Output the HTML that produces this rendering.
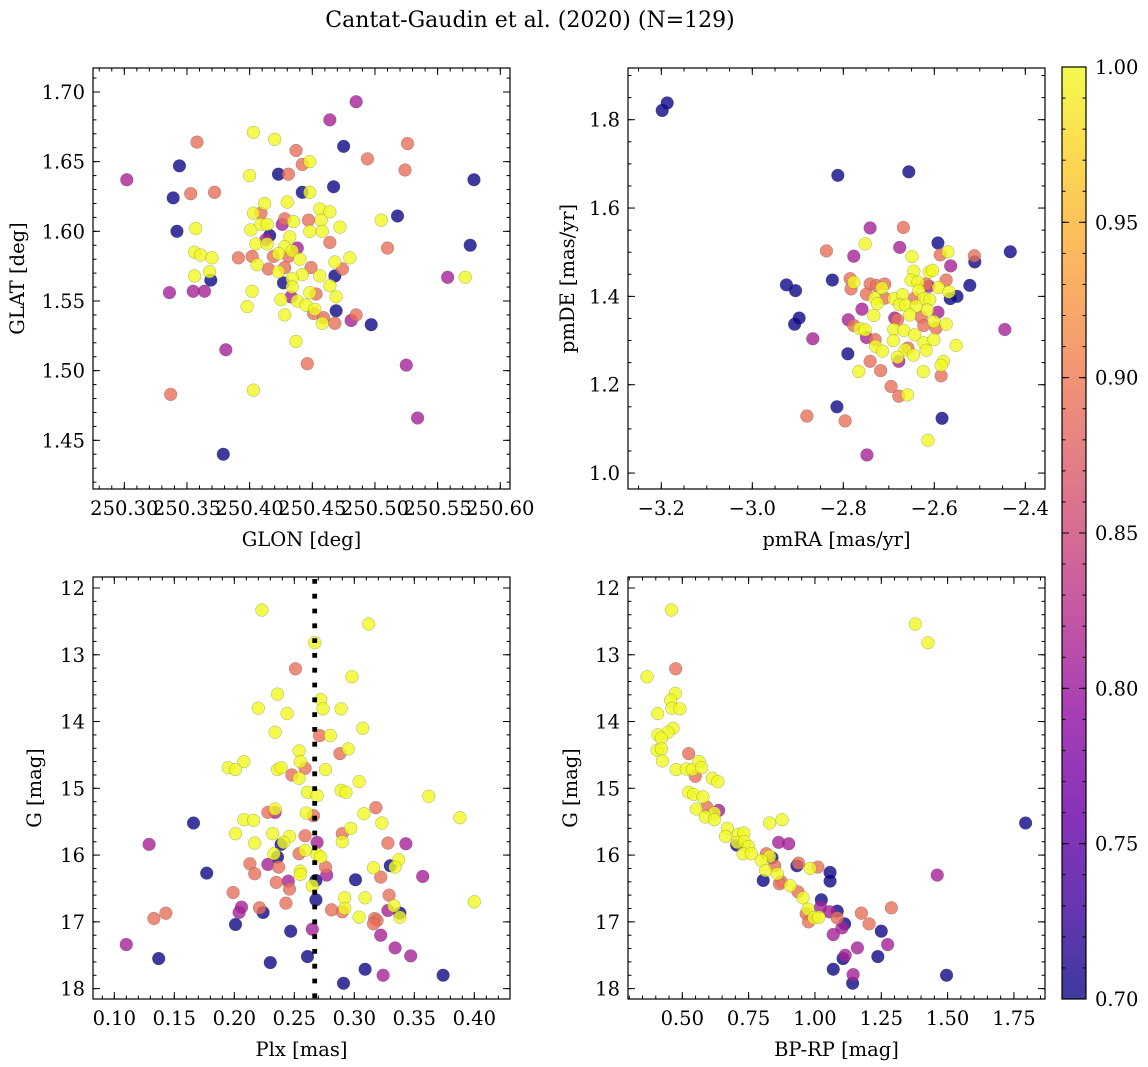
<!DOCTYPE html>
<html><head><meta charset="utf-8"><style>
html,body{margin:0;padding:0;background:#fff;}
svg{display:block;font-family:"DejaVu Serif","Liberation Serif",serif;}
</style></head><body>
<svg id="fig" width="1148" height="1067" viewBox="0 0 1148 1067" xmlns="http://www.w3.org/2000/svg">
<rect x="0" y="0" width="1148" height="1067" fill="#fff"/>
<text x="530" y="27" font-size="22" text-anchor="middle">Cantat-Gaudin et al. (2020) (N=129)</text>
<defs><linearGradient id="plasmaGrad" x1="0" y1="1" x2="0" y2="0"></linearGradient></defs>
</svg>
<script>
// ---------- data ----------
const p1Lon=[250.485,250.464,250.403,250.420,250.358,250.437,250.475,250.526,250.344,250.494,250.442,250.448,250.524,250.302,250.579,250.400,250.423,250.431,250.467,250.339,250.353,250.372,250.442,250.448,250.412,250.430,250.456,250.464,250.409,250.403,250.428,250.447,250.457,250.426,250.435,250.518,250.505,250.472,250.357,250.342,250.401,250.409,250.414,250.416,250.448,250.458,250.432,250.464,250.413,250.405,250.414,250.510,250.576,250.356,250.361,250.370,250.438,250.428,250.434,250.391,250.402,250.423,250.419,250.431,250.440,250.480,250.468,250.474,250.406,250.415,250.428,250.423,250.449,250.456,250.468,250.356,250.369,250.368,250.442,250.427,250.434,250.434,250.464,250.336,250.355,250.364,250.402,250.448,250.453,250.433,250.425,250.438,250.469,250.398,250.445,250.452,250.451,250.469,250.459,250.481,250.485,250.428,250.458,250.468,250.497,250.437,250.381,250.446,250.525,250.558,250.572,250.337,250.403,250.534,250.379];
const p1Lat=[1.693,1.680,1.671,1.666,1.664,1.658,1.661,1.663,1.647,1.652,1.648,1.650,1.644,1.637,1.637,1.640,1.641,1.641,1.632,1.624,1.627,1.628,1.628,1.628,1.620,1.621,1.616,1.614,1.613,1.613,1.609,1.608,1.608,1.605,1.607,1.611,1.608,1.603,1.602,1.600,1.601,1.605,1.605,1.597,1.600,1.600,1.596,1.592,1.594,1.591,1.591,1.588,1.590,1.585,1.583,1.581,1.588,1.589,1.586,1.581,1.582,1.584,1.582,1.582,1.580,1.581,1.578,1.573,1.576,1.573,1.574,1.571,1.574,1.568,1.568,1.568,1.565,1.571,1.569,1.563,1.566,1.560,1.561,1.556,1.557,1.557,1.557,1.556,1.555,1.553,1.551,1.550,1.553,1.546,1.547,1.544,1.541,1.543,1.538,1.536,1.540,1.540,1.534,1.534,1.533,1.521,1.515,1.505,1.504,1.567,1.567,1.483,1.486,1.466,1.440];
const p1Prob=[0.81,0.81,1,1,0.89,0.89,0.7,0.89,0.7,0.89, 0.89,1,0.89,0.81,0.7,1,0.7,0.89,0.7,0.7, 0.89,0.89,0.7,1,1,1,1,1,0.89,1, 0.89,0.89,1,0.81,1,0.7,1,1,1,0.7, 1,1,1,0.7,1,1,1,0.89,0.81,1, 1,0.89,0.7,1,1,1,0.81,1,1,0.89, 0.89,1,0.89,0.89,1,1,1,0.89,1,0.89, 0.89,1,0.89,1,0.7,1,0.7,1,1,0.7, 1,1,1,0.81,0.81,0.81,1,1,0.89,0.81, 1,1,1,1,1,1,0.89,0.7,0.89,0.81, 0.89,1,1,0.89,0.7,1,0.81,0.89,0.81,0.81, 1,0.89,1,0.81,0.7];

const p2PmRA=[-3.198,-3.187,-2.812,-2.656,-2.741,-2.668,-2.752,-2.592,-2.837,-2.777, -2.676,-2.649,-2.587,-2.570,-2.512,-2.511,-2.433,-2.564,-2.645,-2.611, -2.604,-2.824,-2.925,-2.905,-2.785,-2.777,-2.783,-2.741,-2.727,-2.709, -2.749,-2.715,-2.731,-2.725,-2.709,-2.689,-2.670,-2.676,-2.651,-2.636, -2.618,-2.612,-2.591,-2.574,-2.568,-2.565,-2.550,-2.522,-2.634,-2.643, -2.623,-2.610,-2.663,-2.640,-2.615,-2.592,-2.654,-2.759,-2.733,-2.687, -2.681,-2.629,-2.601,-2.574,-2.789,-2.777,-2.764,-2.752,-2.689,-2.667, -2.623,-2.596,-2.867,-2.749,-2.730,-2.729,-2.714,-2.690,-2.643,-2.623, -2.618,-2.601,-2.552,-2.658,-2.664,-2.646,-2.681,-2.678,-2.790,-2.741, -2.766,-2.718,-2.624,-2.580,-2.585,-2.585,-2.695,-2.678,-2.659,-2.814, -2.880,-2.796,-2.583,-2.614,-2.748,-2.907,-2.897,-2.445];
const p2PmDE=[1.821,1.838,1.674,1.682,1.555,1.556,1.519,1.521,1.503,1.491, 1.511,1.490,1.494,1.501,1.492,1.478,1.501,1.469,1.457,1.455, 1.459,1.437,1.426,1.413,1.440,1.432,1.417,1.428,1.425,1.428, 1.405,1.419,1.396,1.384,1.396,1.395,1.404,1.381,1.437,1.432, 1.428,1.423,1.420,1.437,1.410,1.395,1.400,1.425,1.413,1.396, 1.395,1.393,1.380,1.378,1.369,1.364,1.358,1.371,1.357,1.351, 1.347,1.353,1.343,1.337,1.347,1.334,1.327,1.324,1.325,1.323, 1.334,1.328,1.304,1.307,1.302,1.287,1.276,1.300,1.313,1.295, 1.278,1.302,1.289,1.283,1.279,1.267,1.262,1.253,1.270,1.253, 1.230,1.232,1.230,1.253,1.244,1.220,1.196,1.174,1.177,1.150, 1.129,1.118,1.124,1.074,1.041,1.337,1.351,1.325];
const p2Prob=[0.7,0.7,0.7,0.7,0.81,0.89,1,0.7,0.89,0.81, 0.81,1,0.89,1,0.89,0.7,0.7,0.81,1,1, 1,0.7,0.7,0.7,0.89,1,0.89,0.89,0.89,0.89, 0.89,1,1,1,0.89,1,1,1,1,1, 0.89,0.81,1,0.89,1,0.7,0.7,0.7,1,0.89, 1,1,1,1,1,0.81,1,0.81,1,0.81, 0.89,0.89,1,1,0.81,0.89,1,1,1,1, 0.89,0.89,0.81,0.81,0.89,1,1,1,1,1, 1,1,1,0.89,1,1,1,0.81,0.7,0.89, 1,0.89,1,1,1,0.89,0.89,0.89,1,0.7, 0.89,0.89,0.7,1,0.81,0.7,0.7,0.81];

const p3Plx=[0.223,0.312,0.267,0.251,0.298,0.236,0.272,0.274,0.220,0.289, 0.244,0.307,0.234,0.271,0.280,0.295,0.288,0.254,0.208,0.195, 0.201,0.255,0.259,0.236,0.239,0.248,0.254,0.276,0.304,0.289, 0.293,0.261,0.269,0.362,0.318,0.388,0.260,0.266,0.228,0.234, 0.234,0.308,0.166,0.208,0.216,0.323,0.297,0.290,0.290,0.201, 0.232,0.246,0.239,0.241,0.259,0.269,0.217,0.129,0.328,0.343, 0.236,0.233,0.254,0.259,0.269,0.272,0.228,0.213,0.237,0.276, 0.330,0.337,0.334,0.316,0.217,0.255,0.255,0.177,0.277,0.357, 0.322,0.301,0.245,0.235,0.268,0.265,0.246,0.199,0.268,0.292, 0.309,0.329,0.243,0.292,0.290,0.281,0.206,0.204,0.221,0.224, 0.333,0.328,0.338,0.338,0.304,0.317,0.319,0.316,0.143,0.133, 0.201,0.247,0.265,0.322,0.110,0.334,0.347,0.137,0.261,0.230, 0.309,0.324,0.374,0.291,0.400];
const p3G=[12.33,12.54,12.82,13.21,13.33,13.59,13.67,13.81,13.80,13.81, 13.88,14.10,14.16,14.21,14.21,14.41,14.48,14.44,14.60,14.69, 14.72,14.60,14.70,14.72,14.69,14.80,14.85,14.72,14.90,15.03, 15.06,15.06,15.11,15.12,15.29,15.44,15.37,15.41,15.36,15.36, 15.31,15.38,15.52,15.47,15.48,15.52,15.60,15.68,15.80,15.68, 15.68,15.72,15.84,15.81,15.71,15.81,15.82,15.84,15.82,15.83, 16.03,15.98,15.98,15.93,15.99,16.03,16.14,16.13,16.18,16.18, 16.16,16.07,16.18,16.19,16.28,16.24,16.29,16.27,16.30,16.32, 16.33,16.37,16.39,16.41,16.38,16.46,16.51,16.56,16.67,16.64, 16.64,16.60,16.72,16.80,16.85,16.82,16.78,16.86,16.79,16.86, 16.76,16.83,16.87,16.93,16.93,16.95,16.98,17.03,16.87,16.95, 17.04,17.14,17.11,17.20,17.34,17.39,17.51,17.55,17.52,17.61, 17.71,17.80,17.80,17.92,16.70];
const p3Prob=[1,1,1,0.89,1,1,1,1,1,1, 1,1,1,0.89,1,1,0.89,1,1,1, 1,1,0.89,1,1,0.89,1,1,1,1, 1,1,1,1,0.89,1,1,0.89,0.89,0.81, 1,1,0.7,1,1,1,1,0.89,1,1, 1,1,0.7,1,0.89,0.81,1,0.81,0.89,0.81, 0.7,1,0.89,1,1,1,0.81,0.89,0.89,0.89, 0.7,1,1,1,0.89,1,1,0.7,0.81,0.81, 0.89,0.7,0.81,0.89,0.7,1,0.89,0.89,0.7,1, 1,0.89,0.89,1,0.89,0.89,0.81,0.81,0.89,0.7, 1,0.81,0.7,1,1,0.89,0.89,0.89,0.89,0.89, 0.7,0.7,0.81,0.81,0.81,0.81,0.81,0.7,0.7,0.7, 0.7,0.81,0.7,0.7,1];
const plxMean=0.267;

const p4BpRp=[0.459,1.378,1.426,0.475,0.367,0.474,0.456,0.461,0.491,0.407, 0.465,0.446,0.408,0.421,0.524,0.405,0.421,0.425,0.477,0.515, 0.538,0.563,0.573,0.549,0.613,0.634,0.524,0.543,0.578,0.592, 0.553,0.637,0.621,0.587,0.621,0.829,0.876,0.670,0.663,0.712, 0.732,0.863,0.901,0.705,0.707,0.734,0.750,0.729,0.760,0.817, 0.838,0.829,0.798,0.848,0.932,0.938,0.982,1.011,0.814,0.858, 1.057,1.057,0.805,0.873,0.866,0.907,0.936,0.955,0.974,0.967, 0.976,0.996,1.015,1.024,1.021,1.055,1.084,1.084,1.112,1.102, 1.175,1.204,1.288,1.250,1.069,1.160,1.274,1.237,1.106,1.114, 1.069,1.144,1.142,1.496,1.461,1.794];
const p4G=[12.33,12.54,12.82,13.21,13.33,13.58,13.68,13.80,13.81,13.88, 14.10,14.16,14.20,14.25,14.48,14.43,14.41,14.59,14.72,14.71, 14.72,14.60,14.69,14.82,14.85,14.90,15.06,15.09,15.13,15.28, 15.31,15.33,15.37,15.43,15.47,15.52,15.47,15.60,15.72,15.69, 15.67,15.81,15.83,15.85,15.81,15.80,15.87,15.98,15.98,15.98, 16.04,16.02,16.08,16.16,16.16,16.12,16.20,16.18,16.23,16.28, 16.26,16.39,16.38,16.40,16.43,16.46,16.55,16.64,16.81,16.88, 17.00,16.94,16.93,16.67,16.78,16.85,16.84,16.94,17.03,17.09, 16.87,17.03,16.79,17.14,17.19,17.39,17.34,17.52,17.55,17.50, 17.71,17.79,17.92,17.80,16.30,15.52];
const p4Prob=[1,1,1,0.89,1,1,1,1,1,1, 1,1,1,1,0.89,1,1,1,1,1, 1,1,1,0.89,1,1,1,1,1,0.89, 1,0.81,1,1,1,1,1,1,1,1, 1,0.81,0.81,0.7,1,1,1,1,1,0.89, 0.7,1,1,0.89,0.7,0.89,1,0.89,1,1, 0.7,0.7,0.7,0.89,0.89,1,0.89,1,1,0.89, 0.89,1,1,0.7,0.81,0.81,0.7,0.89,0.7,0.81, 0.89,0.89,0.89,0.7,0.81,0.81,0.81,0.7,0.7,0.81, 0.7,0.81,0.7,0.7,0.81,0.7];

const cbarTicks=[0.70,0.75,0.80,0.85,0.90,0.95,1.00];

// ---------- helpers ----------
const NS='http://www.w3.org/2000/svg';
const svg=document.getElementById('fig');
function mk(tag,attrs,parent){const e=document.createElementNS(NS,tag);for(const k in attrs)e.setAttribute(k,attrs[k]);(parent||svg).appendChild(e);return e;}
const PL=[[0,'#0d0887'],[0.1,'#41049d'],[0.2,'#6a00a8'],[0.3,'#8f0da4'],[0.4,'#b12a90'],[0.5,'#cc4778'],[0.6,'#e16462'],[0.7,'#f2844b'],[0.8,'#fca636'],[0.9,'#fcce25'],[1,'#f0f921']];
function hex(h){return [1,3,5].map(i=>parseInt(h.substr(i,2),16));}
function plasma(t){t=Math.max(0,Math.min(1,t));for(let i=0;i<PL.length-1;i++){if(t<=PL[i+1][0]){const f=(t-PL[i][0])/(PL[i+1][0]-PL[i][0]);const a=hex(PL[i][1]),b=hex(PL[i+1][1]);return 'rgb('+a.map((v,j)=>Math.round(v+(b[j]-v)*f)).join(',')+')';}}return PL[10][1];}
const vmin=0.7,vmax=1.0;
const FS=19.5;
const grad=document.getElementById('plasmaGrad');
PL.forEach(s=>{const st=document.createElementNS(NS,'stop');st.setAttribute('offset',s[0]);st.setAttribute('stop-color',s[1]);grad.appendChild(st);});

function makeAxis(o){
  o.x=v=>o.xp0+(v-o.xv0)*o.xs;
  o.y=v=>o.yp0-(v-o.yv0)*o.ys;
  o.xmin=o.xv0+(o.l-o.xp0)/o.xs; o.xmax=o.xv0+(o.r-o.xp0)/o.xs;
  const ya=o.yv0-(o.b-o.yp0)/o.ys, yb=o.yv0-(o.t-o.yp0)/o.ys;
  o.ymin=Math.min(ya,yb); o.ymax=Math.max(ya,yb);
  return o;
}
function tickVals(lo,hi,step){const out=[];let k=Math.ceil(lo/step-1e-6);for(;k*step<=hi+1e-9;k++)out.push(+(k*step).toFixed(6));return out;}
function fmt(v,d){const s=Math.abs(v).toFixed(d);return (v<-1e-9?'\u2212':'')+s;}

function drawPanel(ax,name,xs,ys,ps,cfg){
  const g=mk('g',{});
  
  
  const clipId=name+'-clip';
  const cp=mk('clipPath',{id:clipId},g);
  mk('rect',{x:ax.l,y:ax.t,width:ax.r-ax.l,height:ax.b-ax.t},cp);
  const pts=mk('g',{'clip-path':'url(#'+clipId+')'},g);
  
  
  const idx=xs.map((_,i)=>i).filter(i=>i<ys.length&&i<ps.length).sort((a,b)=>ps[a]-ps[b]);
  idx.forEach(i=>{
    const c=mk('circle',{cx:ax.x(xs[i]).toFixed(2),cy:ax.y(ys[i]).toFixed(2),r:6.4,fill:plasma((ps[i]-vmin)/(vmax-vmin)),'fill-opacity':0.8,stroke:'#444','stroke-opacity':0.55,'stroke-width':0.4},pts);
    
    
  });
  if(cfg.extra)cfg.extra(pts);
  const fr=mk('rect',{x:ax.l,y:ax.t,width:ax.r-ax.l,height:ax.b-ax.t,fill:'none',stroke:'#000','stroke-width':1.2},g);
  
  
  const tk=mk('g',{stroke:'#000','stroke-width':1},g);
  tickVals(ax.xmin,ax.xmax,cfg.xminor).forEach(v=>{const p=ax.x(v);mk('line',{x1:p,x2:p,y1:ax.b,y2:ax.b-3.5},tk);mk('line',{x1:p,x2:p,y1:ax.t,y2:ax.t+3.5},tk);});
  tickVals(ax.ymin,ax.ymax,cfg.yminor).forEach(v=>{const p=ax.y(v);mk('line',{y1:p,y2:p,x1:ax.l,x2:ax.l+3.5},tk);mk('line',{y1:p,y2:p,x1:ax.r,x2:ax.r-3.5},tk);});
  tickVals(ax.xmin,ax.xmax,cfg.xmajor).forEach(v=>{const p=ax.x(v);mk('line',{x1:p,x2:p,y1:ax.b,y2:ax.b-7},tk);mk('line',{x1:p,x2:p,y1:ax.t,y2:ax.t+7},tk);
    const t=mk('text',{x:p,y:ax.b+26,'font-size':FS,'text-anchor':'middle'},g);t.textContent=fmt(v,cfg.xdec);
    });
  tickVals(ax.ymin,ax.ymax,cfg.ymajor).forEach(v=>{const p=ax.y(v);mk('line',{y1:p,y2:p,x1:ax.l,x2:ax.l+7},tk);mk('line',{y1:p,y2:p,x1:ax.r,x2:ax.r-7},tk);
    const t=mk('text',{x:ax.l-8,y:p+7,'font-size':FS,'text-anchor':'end'},g);t.textContent=fmt(v,cfg.ydec);
    });
  const xl=mk('text',{x:(ax.l+ax.r)/2,y:ax.b+57,'font-size':FS,'text-anchor':'middle'},g);xl.textContent=cfg.xlabel;
  
  const yc=(ax.t+ax.b)/2;
  const yl=mk('text',{x:cfg.ylx,y:yc,'font-size':FS,'text-anchor':'middle',transform:'rotate(-90 '+cfg.ylx+' '+yc+')'},g);yl.textContent=cfg.ylabel;
  
}

// ---------- panels ----------
const ax1=makeAxis({l:93,t:68,r:510,b:489,xv0:250.30,xp0:124.3,xs:1253.3,yv0:1.70,yp0:92,ys:1393.3});
drawPanel(ax1,'glon-glat-panel',p1Lon,p1Lat,p1Prob,{xmajor:0.05,xminor:0.01,ymajor:0.05,yminor:0.01,xdec:2,ydec:2,xlabel:'GLON [deg]',ylabel:'GLAT [deg]',ylx:24});

const ax2=makeAxis({l:628,t:68,r:1045,b:489,xv0:-3.2,xp0:661.3,xs:455,yv0:1.8,yp0:119.7,ys:441.7});
drawPanel(ax2,'proper-motion-panel',p2PmRA,p2PmDE,p2Prob,{xmajor:0.2,xminor:0.05,ymajor:0.2,yminor:0.05,xdec:1,ydec:1,xlabel:'pmRA [mas/yr]',ylabel:'pmDE [mas/yr]',ylx:574});

const ax3=makeAxis({l:93,t:577,r:510,b:999,xv0:0.10,xp0:114.3,xs:1200,yv0:12,yp0:588,ys:-66.77});
drawPanel(ax3,'parallax-panel',p3Plx,p3G,p3Prob,{xmajor:0.05,xminor:0.01,ymajor:1,yminor:0.2,xdec:2,ydec:0,xlabel:'Plx [mas]',ylabel:'G [mag]',ylx:41,
  extra:(g)=>{const px=ax3.x(plxMean);const l=mk('line',{x1:px,x2:px,y1:ax3.t+2,y2:ax3.b,stroke:'#000','stroke-width':4.8,'stroke-dasharray':'4.8 10'},g);
    }});

const ax4=makeAxis({l:628,t:577,r:1045,b:999,xv0:0.50,xp0:682.3,xs:265.3,yv0:12,yp0:588,ys:-66.77});
drawPanel(ax4,'cmd-panel',p4BpRp,p4G,p4Prob,{xmajor:0.25,xminor:0.05,ymajor:1,yminor:0.2,xdec:2,ydec:0,xlabel:'BP-RP [mag]',ylabel:'G [mag]',ylx:577});

// ---------- colorbar ----------
const cb={l:1062,r:1086,t:67,b:999};
const cbg=mk('g',{});


mk('rect',{x:cb.l,y:cb.t,width:cb.r-cb.l,height:cb.b-cb.t,fill:'url(#plasmaGrad)','fill-opacity':0.8,stroke:'none'},cbg);
mk('rect',{x:cb.l,y:cb.t,width:cb.r-cb.l,height:cb.b-cb.t,fill:'none',stroke:'#000','stroke-width':1.2},cbg);
const cy=v=>cb.b-(v-vmin)/(vmax-vmin)*(cb.b-cb.t);
tickVals(vmin,vmax,0.01).forEach(v=>{const p=cy(v);mk('line',{x1:cb.r,x2:cb.r-3.5,y1:p,y2:p,stroke:'#000','stroke-width':1},cbg);mk('line',{x1:cb.l,x2:cb.l+3.5,y1:p,y2:p,stroke:'#000','stroke-width':1},cbg);});
cbarTicks.forEach(v=>{const p=cy(v);mk('line',{x1:cb.r,x2:cb.r-7,y1:p,y2:p,stroke:'#000','stroke-width':1},cbg);mk('line',{x1:cb.l,x2:cb.l+7,y1:p,y2:p,stroke:'#000','stroke-width':1},cbg);
  const t=mk('text',{x:cb.r+9,y:p+7,'font-size':FS},cbg);t.textContent=v.toFixed(2);
  });
</script>
</body></html>
